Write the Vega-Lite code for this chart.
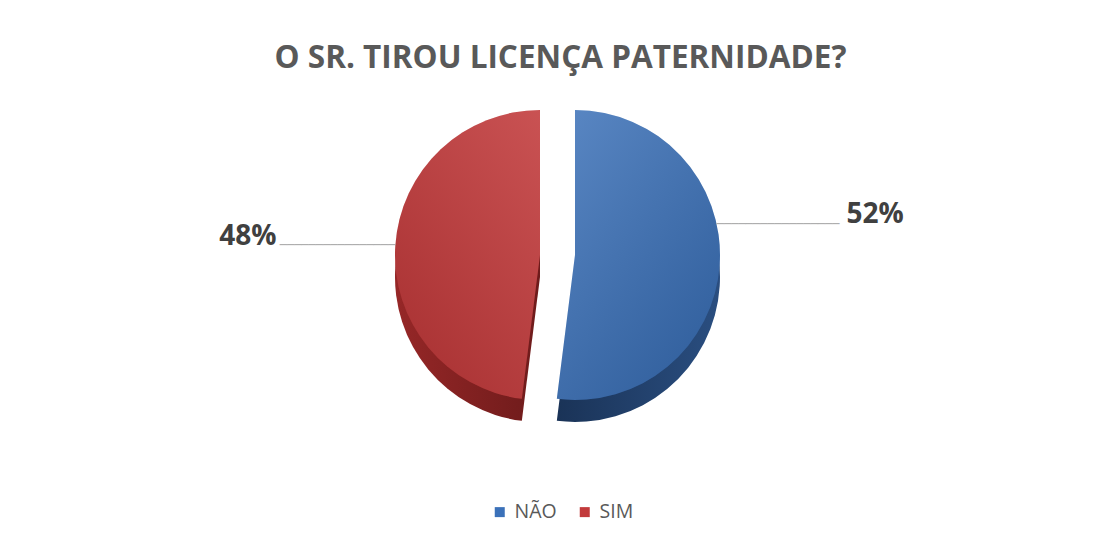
{
  "$schema": "https://vega.github.io/schema/vega-lite/v6.json",
  "width": 1085,
  "height": 534,
  "padding": {"left": 8, "top": 10, "right": 0, "bottom": 0},
  "autosize": {"type": "none"},
  "background": "#ffffff",
  "config": {
    "view": {"stroke": "#d9d9d9", "strokeWidth": 1.2},
    "legend": {
      "orient": "none",
      "legendX": 482,
      "legendY": 492,
      "direction": "horizontal",
      "symbolType": "square",
      "symbolSize": 100,
      "symbolStrokeWidth": 0,
      "labelFont": "Open Sans",
      "labelFontSize": 19.5,
      "labelColor": "#595959",
      "labelOffset": 5,
      "columnPadding": 18,
      "padding": 0
    }
  },
  "title": {
    "text": "O SR. TIROU LICENÇA PATERNIDADE?",
    "font": "Open Sans",
    "fontSize": 31.5,
    "fontWeight": "bold",
    "color": "#595959",
    "anchor": "middle",
    "offset": -64,
    "dx": 10
  },
  "data": {
    "values": [
      {"resposta": "NÃO", "percentual": 0.52},
      {"resposta": "SIM", "percentual": 0.48}
    ]
  },
  "transform": [
    {"stack": "percentual", "groupby": [], "as": ["inicio", "fim"]}
  ],
  "layer": [
    {
      "transform": [{"filter": "datum.resposta === 'NÃO'"}],
      "mark": {
        "type": "arc", "radius": 145, "xOffset": 24.5, "yOffset": 0,
        "color": {"gradient": "linear", "x1": 0, "y1": 0, "x2": 1, "y2": 0,
          "stops": [{"offset": 0, "color": "#1a3357"}, {"offset": 1, "color": "#2a4e80"}]}
      },
      "encoding": {
        "theta": {"field": "inicio", "type": "quantitative", "scale": {"domain": [0, 1]}},
        "theta2": {"field": "fim"}
      }
    },
    {
      "transform": [{"filter": "datum.resposta === 'SIM'"}],
      "mark": {
        "type": "arc", "radius": 145, "xOffset": -10.5, "yOffset": 0,
        "color": {"gradient": "linear", "x1": 0, "y1": 0, "x2": 1, "y2": 0,
          "stops": [{"offset": 0, "color": "#962727"}, {"offset": 1, "color": "#6e1b1b"}]}
      },
      "encoding": {
        "theta": {"field": "inicio", "type": "quantitative", "scale": {"domain": [0, 1]}},
        "theta2": {"field": "fim"}
      }
    },
    {
      "transform": [{"filter": "datum.resposta === 'NÃO'"}],
      "mark": {"type": "arc", "radius": 145, "xOffset": 24.5, "yOffset": -22},
      "encoding": {
        "theta": {"field": "inicio", "type": "quantitative", "scale": {"domain": [0, 1]}},
        "theta2": {"field": "fim"},
        "color": {"field": "resposta", "type": "nominal", "title": null,
          "scale": {"domain": ["NÃO", "SIM"], "range": ["#3b71b9", "#c23a3b"]}}
      }
    },
    {
      "transform": [{"filter": "datum.resposta === 'SIM'"}],
      "mark": {"type": "arc", "radius": 145, "xOffset": -10.5, "yOffset": -22},
      "encoding": {
        "theta": {"field": "inicio", "type": "quantitative", "scale": {"domain": [0, 1]}},
        "theta2": {"field": "fim"},
        "color": {"field": "resposta", "type": "nominal", "title": null,
          "scale": {"domain": ["NÃO", "SIM"], "range": ["#3b71b9", "#c23a3b"]}}
      }
    },
    {
      "transform": [{"filter": "datum.resposta === 'NÃO'"}],
      "mark": {
        "type": "arc", "radius": 145, "xOffset": 24.5, "yOffset": -22,
        "color": {"gradient": "linear", "x1": 0, "y1": 0, "x2": 0.7, "y2": 1,
          "stops": [{"offset": 0, "color": "rgba(255,255,255,0.16)"}, {"offset": 1, "color": "rgba(0,0,0,0.14)"}]}
      },
      "encoding": {
        "theta": {"field": "inicio", "type": "quantitative", "scale": {"domain": [0, 1]}},
        "theta2": {"field": "fim"}
      }
    },
    {
      "transform": [{"filter": "datum.resposta === 'SIM'"}],
      "mark": {
        "type": "arc", "radius": 145, "xOffset": -10.5, "yOffset": -22,
        "color": {"gradient": "linear", "x1": 1, "y1": 0, "x2": 0.3, "y2": 1,
          "stops": [{"offset": 0, "color": "rgba(255,255,255,0.12)"}, {"offset": 1, "color": "rgba(0,0,0,0.12)"}]}
      },
      "encoding": {
        "theta": {"field": "inicio", "type": "quantitative", "scale": {"domain": [0, 1]}},
        "theta2": {"field": "fim"}
      }
    },
    {
      "mark": {
        "type": "text", "text": "─────────────────", "font": "DejaVu Sans", "fontSize": 12,
        "color": "#a6a6a6", "align": "left", "baseline": "middle",
        "radius": 142, "xOffset": 24.5, "yOffset": -22, "dy": -40
      },
      "encoding": {
        "theta": {"field": "percentual", "type": "quantitative", "stack": true, "scale": {"domain": [0, 1]}},
        "order": {"field": "inicio", "type": "quantitative", "sort": "ascending"},
        "opacity": {"condition": {"test": "datum.resposta === 'NÃO'", "value": 1}, "value": 0}
      }
    },
    {
      "mark": {
        "type": "text", "text": "────────────────", "font": "DejaVu Sans", "fontSize": 12,
        "color": "#a6a6a6", "align": "right", "baseline": "middle",
        "radius": 145, "xOffset": -10.5, "yOffset": -22, "dy": -1
      },
      "encoding": {
        "theta": {"field": "percentual", "type": "quantitative", "stack": true, "scale": {"domain": [0, 1]}},
        "order": {"field": "inicio", "type": "quantitative", "sort": "ascending"},
        "opacity": {"condition": {"test": "datum.resposta === 'SIM'", "value": 1}, "value": 0}
      }
    },
    {
      "mark": {
        "type": "text", "font": "Open Sans", "fontSize": 28, "fontWeight": "bold",
        "color": "#404040", "align": "center", "baseline": "middle",
        "radius": 300.6, "xOffset": 24.5, "yOffset": -22, "dy": -59
      },
      "encoding": {
        "theta": {"field": "percentual", "type": "quantitative", "stack": true, "scale": {"domain": [0, 1]}},
        "order": {"field": "inicio", "type": "quantitative", "sort": "ascending"},
        "text": {"field": "percentual", "type": "quantitative", "format": ".0%"},
        "opacity": {"condition": {"test": "datum.resposta === 'NÃO'", "value": 1}, "value": 0}
      }
    },
    {
      "mark": {
        "type": "text", "font": "Open Sans", "fontSize": 28, "fontWeight": "bold",
        "color": "#404040", "align": "center", "baseline": "middle",
        "radius": 292.6, "xOffset": -10.5, "yOffset": -22, "dy": 0
      },
      "encoding": {
        "theta": {"field": "percentual", "type": "quantitative", "stack": true, "scale": {"domain": [0, 1]}},
        "order": {"field": "inicio", "type": "quantitative", "sort": "ascending"},
        "text": {"field": "percentual", "type": "quantitative", "format": ".0%"},
        "opacity": {"condition": {"test": "datum.resposta === 'SIM'", "value": 1}, "value": 0}
      }
    }
  ]
}
